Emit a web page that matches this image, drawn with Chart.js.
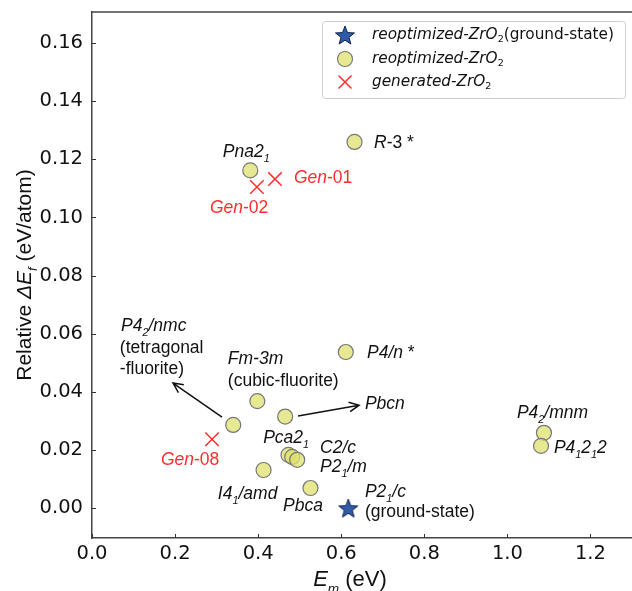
<!DOCTYPE html>
<html>
<head>
<meta charset="utf-8">
<script src="https://cdn.jsdelivr.net/npm/chart.js@4.4.0/dist/chart.umd.min.js"></script>
<style>
  html, body { margin: 0; padding: 0; background: #fff; overflow: hidden; }
  canvas { display: block; }
</style>
</head>
<body>
<canvas id="c" width="632" height="591"></canvas>
<script>
// data (E_m in eV, relative dE_f in eV/atom)
const reoptNames = ['R-3*', 'Pna21', 'P4/n*', 'Fm-3m', 'Pbcn', 'P42/nmc', 'Pca21', 'C2/c', 'P21/m', 'I41/amd', 'Pbca', 'P42/mnm', 'P41212'];
const reoptX = [0.632, 0.381, 0.611, 0.398, 0.465, 0.340, 0.473, 0.482, 0.494, 0.413, 0.526, 1.088, 1.081];
const reoptY = [0.1260, 0.1162, 0.0537, 0.0368, 0.0315, 0.0286, 0.0183, 0.0176, 0.0166, 0.0131, 0.0069, 0.0259, 0.0214];

const groundX = [0.617];
const groundY = [0.0];

const genNames = ['Gen-01', 'Gen-02', 'Gen-08'];
const genX = [0.4405, 0.397, 0.289];
const genY = [0.1132, 0.1105, 0.0237];

const xTicks = [0.0, 0.2, 0.4, 0.6, 0.8, 1.0, 1.2];
const yTicks = [0.00, 0.02, 0.04, 0.06, 0.08, 0.10, 0.12, 0.14, 0.16];

// text annotations, anchored in data units (left edge, baseline)
const notes = [
  { x: 0.679, y: 0.1239, red: false, t: [['R', 'i'], ['-3 *', '']] },
  { x: 0.315, y: 0.1208, red: false, t: [['Pna2', 'i'], ['1', 'is']] },
  { x: 0.486, y: 0.1118, red: true, t: [['Gen', 'i'], ['-01', '']] },
  { x: 0.284, y: 0.1015, red: true, t: [['Gen', 'i'], ['-02', '']] },
  { x: 0.070, y: 0.0609, red: false, t: [['P4', 'i'], ['2', 'is'], ['/nmc', 'i']] },
  { x: 0.067, y: 0.0533, red: false, t: [['(tetragonal', '']] },
  { x: 0.067, y: 0.0461, red: false, t: [['-fluorite)', '']] },
  { x: 0.327, y: 0.0496, red: false, t: [['Fm-3m', 'i']] },
  { x: 0.327, y: 0.0420, red: false, t: [['(cubic-fluorite)', '']] },
  { x: 0.662, y: 0.0516, red: false, t: [['P4/n', 'i'], [' *', '']] },
  { x: 0.657, y: 0.0341, red: false, t: [['Pbcn', 'i']] },
  { x: 0.412, y: 0.0224, red: false, t: [['Pca2', 'i'], ['1', 'is']] },
  { x: 0.549, y: 0.0189, red: false, t: [['C2/c', 'i']] },
  { x: 0.549, y: 0.0124, red: false, t: [['P2', 'i'], ['1', 'is'], ['/m', 'i']] },
  { x: 0.303, y: 0.0031, red: false, t: [['I4', 'i'], ['1', 'is'], ['/amd', 'i']] },
  { x: 0.460, y: -0.0010, red: false, t: [['Pbca', 'i']] },
  { x: 0.657, y: 0.0038, red: false, t: [['P2', 'i'], ['1', 'is'], ['/c', 'i']] },
  { x: 0.657, y: -0.0031, red: false, t: [['(ground-state)', '']] },
  { x: 1.023, y: 0.0310, red: false, t: [['P4', 'i'], ['2', 'is'], ['/mnm', 'i']] },
  { x: 1.112, y: 0.0189, red: false, t: [['P4', 'i'], ['1', 'is'], ['2', 'i'], ['1', 'is'], ['2', 'i']] },
  { x: 0.166, y: 0.0148, red: true, t: [['Gen', 'i'], ['-08', '']] }
];

// arrows: [x0, y0, x1, y1] in data units
const arrows = [
  [0.313, 0.0313, 0.195, 0.0430],
  [0.496, 0.0317, 0.643, 0.0354]
];

const SANS = '"Liberation Sans", Arial, sans-serif';
const DEJAVU = '"DejaVu Sans", sans-serif';
const RED = '#ff2d2d';
const CIRCLE_FILL = 'rgba(222, 226, 110, 0.75)';

// filled five point star for the ground state
function makeStar(r) {
  const cv = document.createElement('canvas');
  const s = Math.ceil(r * 2 + 4);
  cv.width = s; cv.height = s;
  const g = cv.getContext('2d');
  g.beginPath();
  for (let i = 0; i < 10; i++) {
    const rr = i % 2 == 0 ? r : r * 0.42;
    const a = -Math.PI / 2 + i * Math.PI / 5;
    g.lineTo(s / 2 + rr * Math.cos(a), s / 2 + 1 + rr * Math.sin(a));
  }
  g.closePath();
  g.fillStyle = '#2f5ca8';
  g.fill();
  g.strokeStyle = '#14244a';
  g.lineWidth = 1;
  g.stroke();
  return cv;
}
const starImg = makeStar(10);

// draws mixed italic / subscript runs, returns total width
function rich(ctx, x, y, segs, size, fam, draw) {
  let cx = x;
  for (const [t, f] of segs) {
    const sub = f.includes('s');
    const sz = sub ? size * 0.62 : size;
    ctx.font = (f.includes('i') ? 'italic ' : '') + sz + 'px ' + fam;
    if (draw !== false) ctx.fillText(t, cx, y + (sub ? size * 0.3 : 0));
    cx += ctx.measureText(t).width;
  }
  return cx - x;
}

const decor = {
  id: 'decor',
  afterDatasetsDraw(chart) {
    const ctx = chart.ctx;
    const xs = chart.scales.x, ys = chart.scales.y;
    const a = chart.chartArea;
    ctx.save();

    // top spine
    ctx.strokeStyle = '#444';
    ctx.lineWidth = 1.5;
    ctx.beginPath();
    ctx.moveTo(a.left, a.top);
    ctx.lineTo(a.right, a.top);
    ctx.stroke();

    // inward ticks
    ctx.lineWidth = 1;
    ctx.strokeStyle = '#333';
    ctx.beginPath();
    xTicks.forEach(v => {
      const px = Math.round(xs.getPixelForValue(v)) + 0.5;
      ctx.moveTo(px, a.bottom);
      ctx.lineTo(px, a.bottom - 4);
    });
    yTicks.forEach(v => {
      const py = Math.round(ys.getPixelForValue(v)) + 0.5;
      ctx.moveTo(a.left, py);
      ctx.lineTo(a.left + 4, py);
    });
    ctx.stroke();

    // arrows
    ctx.strokeStyle = '#111';
    ctx.lineWidth = 1.5;
    arrows.forEach(([x0, y0, x1, y1]) => {
      const p0x = xs.getPixelForValue(x0), p0y = ys.getPixelForValue(y0);
      const p1x = xs.getPixelForValue(x1), p1y = ys.getPixelForValue(y1);
      const ang = Math.atan2(p1y - p0y, p1x - p0x);
      ctx.beginPath();
      ctx.moveTo(p0x, p0y);
      ctx.lineTo(p1x, p1y);
      ctx.moveTo(p1x - 11 * Math.cos(ang - 0.45), p1y - 11 * Math.sin(ang - 0.45));
      ctx.lineTo(p1x, p1y);
      ctx.lineTo(p1x - 11 * Math.cos(ang + 0.45), p1y - 11 * Math.sin(ang + 0.45));
      ctx.stroke();
    });

    // annotations
    ctx.textBaseline = 'alphabetic';
    ctx.textAlign = 'left';
    notes.forEach(n => {
      ctx.fillStyle = n.red ? RED : '#111';
      rich(ctx, xs.getPixelForValue(n.x), ys.getPixelForValue(n.y), n.t, 17.5, SANS);
    });

    // legend box
    const lx = 322, ly = 21, lw = 303, lh = 77;
    ctx.fillStyle = 'rgba(255,255,255,0.85)';
    ctx.strokeStyle = '#cfcfcf';
    ctx.lineWidth = 1;
    ctx.beginPath();
    ctx.roundRect(lx + 0.5, ly + 0.5, lw, lh, 3);
    ctx.fill();
    ctx.stroke();

    const mx = lx + 23, tx = lx + 50;
    const rows = [ly + 14, ly + 38, ly + 61];
    ctx.drawImage(starImg, mx - starImg.width / 2, rows[0] - starImg.height / 2);
    ctx.beginPath();
    ctx.arc(mx, rows[1], 7.5, 0, Math.PI * 2);
    ctx.fillStyle = CIRCLE_FILL;
    ctx.fill();
    ctx.strokeStyle = '#777';
    ctx.lineWidth = 1.2;
    ctx.stroke();
    ctx.beginPath();
    ctx.strokeStyle = RED;
    ctx.lineWidth = 1.5;
    ctx.moveTo(mx - 6.5, rows[2] - 6.5); ctx.lineTo(mx + 6.5, rows[2] + 6.5);
    ctx.moveTo(mx + 6.5, rows[2] - 6.5); ctx.lineTo(mx - 6.5, rows[2] + 6.5);
    ctx.stroke();

    ctx.fillStyle = '#111';
    ctx.textBaseline = 'middle';
    rich(ctx, tx, rows[0], [['reoptimized-ZrO', 'i'], ['2', 's'], ['(ground-state)', '']], 15.3, DEJAVU);
    rich(ctx, tx, rows[1], [['reoptimized-ZrO', 'i'], ['2', 's']], 15.3, DEJAVU);
    rich(ctx, tx, rows[2], [['generated-ZrO', 'i'], ['2', 's']], 15.3, DEJAVU);

    // axis titles
    ctx.textBaseline = 'alphabetic';
    const xt = [['E', 'i'], ['m', 'is'], [' (eV)', '']];
    const wx = rich(ctx, 0, 0, xt, 22, SANS, false);
    rich(ctx, 350 - wx / 2, 586, xt, 22, SANS);

    const yt = [['Relative ', ''], ['ΔE', 'i'], ['f', 'is'], [' (eV/atom)', '']];
    const wy = rich(ctx, 0, 0, yt, 21, SANS, false);
    ctx.translate(31, (a.top + a.bottom) / 2);
    ctx.rotate(-Math.PI / 2);
    rich(ctx, -wy / 2, 0, yt, 21, SANS);
    ctx.restore();
  }
};

const toPts = (xv, yv) => xv.map((v, i) => ({ x: v, y: yv[i] }));

// keep the plot box fixed: no extra room for overhanging tick labels
const noPad = s => { s.paddingLeft = 0; s.paddingRight = 0; s.paddingTop = 0; s.paddingBottom = 0; };

new Chart(document.getElementById('c'), {
  type: 'scatter',
  data: {
    datasets: [
      {
        label: 'reoptimized-ZrO2',
        data: toPts(reoptX, reoptY),
        pointStyle: 'circle',
        pointRadius: 7.5,
        pointHoverRadius: 7.5,
        backgroundColor: CIRCLE_FILL,
        borderColor: '#777',
        borderWidth: 1.2
      },
      {
        label: 'reoptimized-ZrO2(ground-state)',
        data: toPts(groundX, groundY),
        pointStyle: starImg,
        pointRadius: 10
      },
      {
        label: 'generated-ZrO2',
        data: toPts(genX, genY),
        pointStyle: 'crossRot',
        pointRadius: 9.5,
        pointHoverRadius: 9.5,
        borderColor: RED,
        borderWidth: 1.5
      }
    ]
  },
  options: {
    responsive: false,
    animation: false,
    layout: { autoPadding: false, padding: { top: 12, right: 0, left: 0, bottom: 0 } },
    plugins: {
      legend: { display: false },
      tooltip: { enabled: false }
    },
    scales: {
      x: {
        type: 'linear',
        min: 0,
        max: 1.3,
        afterBuildTicks: s => { s.ticks = xTicks.map(v => ({ value: v })); },
        afterFit: s => { s.height = 53; noPad(s); },
        grid: { display: false, drawTicks: false },
        border: { display: true, color: '#444', width: 1.5 },
        ticks: {
          padding: 4,
          color: '#111',
          font: { family: DEJAVU, size: 19.5 },
          callback: v => v.toFixed(1)
        }
      },
      y: {
        type: 'linear',
        min: -0.0103,
        max: 0.1707,
        afterBuildTicks: s => { s.ticks = yTicks.map(v => ({ value: v })); },
        afterFit: s => { s.width = 92; noPad(s); },
        grid: { display: false, drawTicks: false },
        border: { display: true, color: '#444', width: 1.5 },
        ticks: {
          padding: 9,
          color: '#111',
          font: { family: DEJAVU, size: 19.5 },
          callback: v => v.toFixed(2)
        }
      }
    }
  },
  plugins: [decor]
});
</script>
</body>
</html>
